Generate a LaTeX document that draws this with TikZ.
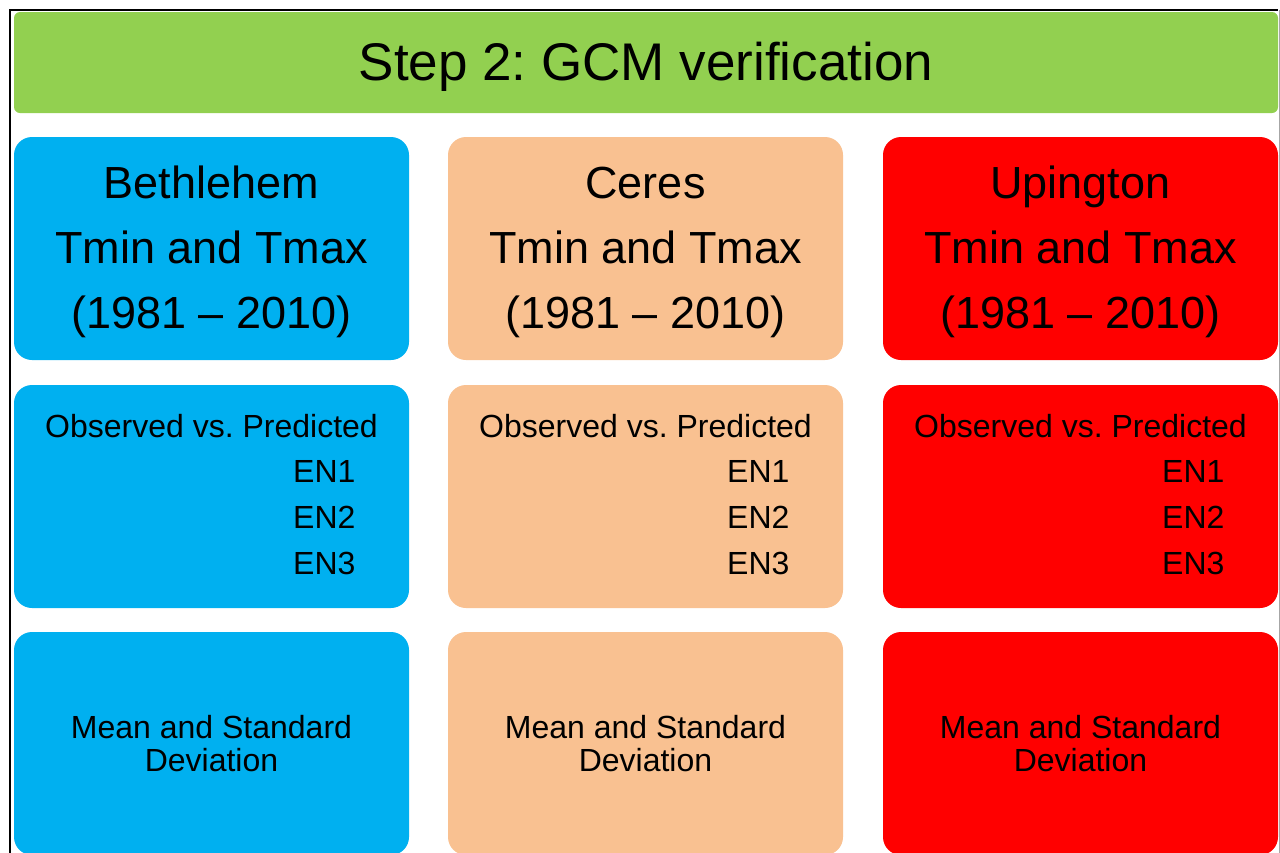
\documentclass[tikz,border=0pt]{standalone}
\usepackage{fontspec}
\setmainfont{Liberation Sans}
\frenchspacing
\definecolor{stepgreen}{HTML}{92D050}
\definecolor{siteblue}{HTML}{00B0F0}
\definecolor{sitepeach}{HTML}{F9C191}
\definecolor{sitered}{HTML}{FF0000}
\tikzset{
  panel/.style={rounded corners=18pt, inner sep=0pt, outer sep=0pt,
    minimum width=395pt, minimum height=223pt, anchor=north west},
  banner/.style={rounded corners=6pt, inner sep=0pt, outer sep=0pt,
    fill=stepgreen, minimum width=1264pt, minimum height=101pt, anchor=north west},
  titletext/.style={inner sep=0pt, font={\fontsize{53pt}{60pt}\selectfont}},
  sitetext/.style={inner sep=0pt, align=center, font={\fontsize{45pt}{65pt}\selectfont}},
  compare/.style={inner sep=0pt, font={\fontsize{32pt}{46pt}\selectfont}},
  members/.style={inner sep=0pt, align=left, anchor=west, font={\fontsize{32pt}{46pt}\selectfont}},
  stats/.style={inner sep=0pt, align=center, font={\fontsize{32pt}{33pt}\selectfont}},
}
\begin{document}
\begin{tikzpicture}[x=1pt, y=-1pt]
  \useasboundingbox (0,0) rectangle (1280,852);
  \fill[white] (0,0) rectangle (1280,852);

  % slide frame
  \draw[black, line width=2pt] (10,853) -- (10,10) -- (1278,10);
  \draw[gray!70, line width=1pt] (1279.5,10) -- (1279.5,853);

  % heading
  \node[banner] (head) at (14,12) {};
  \node[titletext] (headtext) at ([yshift=-4pt]head.center) {Step 2: GCM verification};

  % three stations, three rows each
  \foreach \name/\col/\x/\site in {bet/siteblue/14/Bethlehem, cer/sitepeach/448/Ceres, upi/sitered/883/Upington}{
    \node[panel, fill=\col] (\name-period) at (\x,137) {};
    \node[sitetext] (\name-periodtext) at ([yshift=-3.5pt]\name-period.center)
      {\site\\Tmin and Tmax\\(1981 – 2010)};

    \node[panel, fill=\col] (\name-verify) at (\x,385) {};
    \node[compare] (\name-compare) at ([yshift=70pt]\name-verify.center) {Observed vs. Predicted};
    \node[members] (\name-members) at ([xshift=279pt, yshift=-21.5pt]\name-verify.west) {EN1\\EN2\\EN3};

    \node[panel, fill=\col] (\name-stats) at (\x,632) {};
    \node[stats] (\name-statstext) at (\name-stats.center) {Mean and Standard\\Deviation};
  }
\end{tikzpicture}
\end{document}
